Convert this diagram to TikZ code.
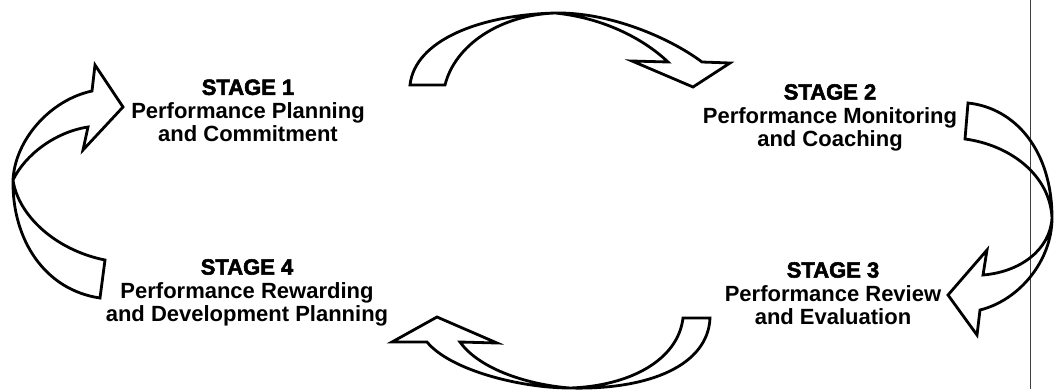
\documentclass[tikz,border=0pt]{standalone}
\usepackage{fontspec}
\setmainfont{Liberation Sans}
\newfontfamily\stagefont[FakeBold=2.5]{Liberation Sans Bold}
\newcommand{\stagehead}[1]{{\stagefont\mdseries #1}}
\begin{document}
\begin{tikzpicture}[x=1pt,y=-1pt,
  stagelabel/.style={align=center, inner sep=0pt, anchor=north,
    font=\bfseries\fontsize{22}{23.5}\selectfont},
  ribbon/.style={draw=black, line width=2.8pt, line join=miter},
  scanedge/.style={draw=black!75, line width=1pt}]
\useasboundingbox (0,0) rectangle (1054,389);

% scan edge line
\coordinate (edgetop) at (1030,0);
\coordinate (edgebot) at (1030,389);
\draw[scanedge] (edgetop) -- (edgebot);

% stage labels
\node[stagelabel] (s1) at (248,79.3) {\stagehead{STAGE 1}\\Performance Planning\\and Commitment};
\node[stagelabel] (s2) at (830,84) {\stagehead{STAGE 2}\\Performance Monitoring\\and Coaching};
\node[stagelabel] (s3) at (833,262) {\stagehead{STAGE 3}\\Performance Review\\and Evaluation};
\node[stagelabel] (s4) at (247,259) {\stagehead{STAGE 4}\\Performance Rewarding\\and Development Planning};

% left arrow (stage 4 -> stage 1)
\draw[ribbon] (123,107) -- (95,65) -- (92,91)
  .. controls (50,100) and (15,140) .. (13,180)
  .. controls (12,240) and (45,290) .. (100,298)
  -- (105,260)
  .. controls (55,250) and (18,215) .. (13,180)
  .. controls (25,155) and (55,132) .. (88,127)
  -- (83,150) -- cycle;

% top arrow (stage 1 -> stage 2)
\draw[ribbon] (410,85)
  .. controls (415,40) and (480,15) .. (555,13)
  .. controls (610,12) and (670,38) .. (702,62)
  -- (730,63) -- (693,87) -- (632,61) -- (668,62)
  .. controls (645,40) and (605,18) .. (555,13)
  .. controls (500,15) and (455,45) .. (445,85)
  -- cycle;

% right arrow (stage 2 -> stage 3)
\draw[ribbon] (968,103)
  .. controls (1015,108) and (1052,150) .. (1052,218)
  .. controls (1052,260) and (1020,300) .. (980,310)
  -- (977,335) -- (948,295) -- (987,250) -- (983,275)
  .. controls (1020,272) and (1050,250) .. (1052,218)
  .. controls (1050,175) and (1010,145) .. (965,139)
  -- cycle;

% bottom arrow (stage 3 -> stage 4)
\draw[ribbon] (392,342) -- (437,317) -- (497,343) -- (460,342)
  .. controls (480,370) and (530,385) .. (570,388)
  .. controls (650,390) and (708,365) .. (710,318)
  -- (683,318)
  .. controls (678,360) and (630,386) .. (570,388)
  .. controls (520,388) and (450,370) .. (427,342)
  -- cycle;
\end{tikzpicture}
\end{document}
